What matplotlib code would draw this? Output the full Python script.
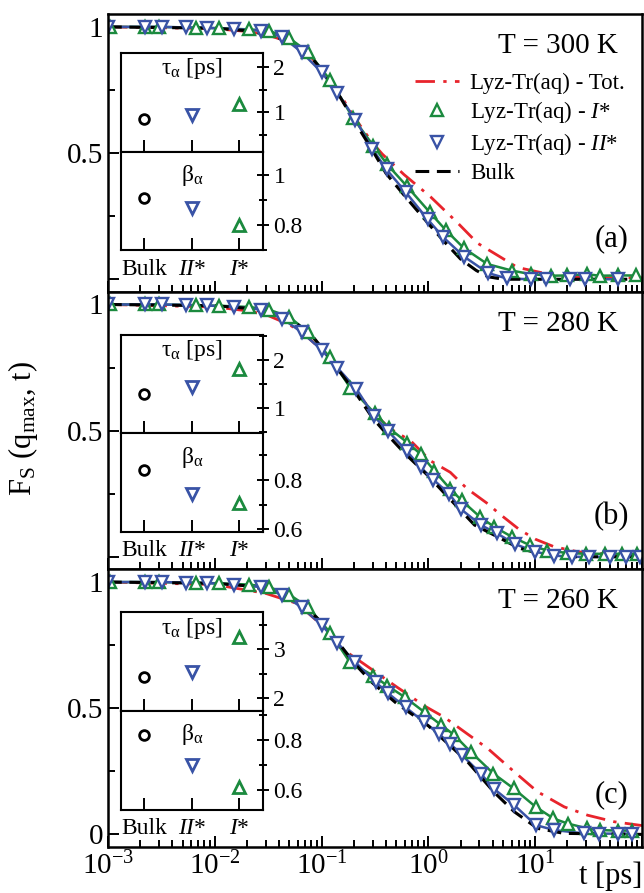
import numpy as np
import matplotlib.pyplot as plt
from matplotlib.ticker import FormatStrFormatter, LogLocator, NullFormatter, FixedLocator

plt.rcParams['font.family'] = ['Liberation Serif', 'DejaVu Serif']
plt.rcParams['mathtext.fontset'] = 'custom'
plt.rcParams['mathtext.rm'] = 'Liberation Serif'
plt.rcParams['mathtext.it'] = 'Liberation Serif:italic'
plt.rcParams['mathtext.bf'] = 'Liberation Serif:bold'

RED = '#e8242c'
GREEN = '#1b8a3e'
BLUE = '#3953a6'

# ---------------- T = 300 K ----------------
t_tot_300 = [0.001, 0.01, 0.02, 0.03, 0.05, 0.07, 0.1, 0.15, 0.2, 0.3, 0.37, 0.59, 1.05, 1.87, 2.88, 4.43, 6.8, 11.2, 20, 50, 100]
f_tot_300 = [1.0, 0.993, 0.982, 0.97, 0.94, 0.905, 0.835, 0.73, 0.645, 0.54, 0.496, 0.415, 0.326, 0.224, 0.143, 0.095, 0.047, 0.027, 0.008, 0.006, 0.006]
t_bulk_300 = [0.001, 0.01, 0.02, 0.03, 0.045, 0.059, 0.08, 0.1, 0.15, 0.2, 0.3, 0.4, 0.6, 1.0, 1.4, 2.0, 2.8, 3.6, 5, 100]
f_bulk_300 = [1.0, 0.995, 0.985, 0.97, 0.95, 0.925, 0.88, 0.83, 0.72, 0.63, 0.51, 0.42, 0.33, 0.22, 0.15, 0.08, 0.035, 0.01, 0.0, 0.0]
t_i_300 = [0.00105, 0.0022, 0.003, 0.0066, 0.011, 0.021, 0.032, 0.05, 0.075, 0.12, 0.197, 0.304, 0.411, 0.624, 1.03, 1.45, 2.15, 3.57, 6.1, 9.1, 14, 20, 30.5, 40, 60, 87]
f_i_300 = [1.0, 1.0, 1.0, 0.997, 0.995, 0.99, 0.985, 0.955, 0.9, 0.79, 0.639, 0.53, 0.455, 0.37, 0.265, 0.195, 0.123, 0.06, 0.034, 0.02, 0.014, 0.015, 0.02, 0.014, 0.015, 0.015]
t_ii_300 = [0.001, 0.0022, 0.0032, 0.0054, 0.0085, 0.015, 0.027, 0.043, 0.065, 0.1, 0.14, 0.207, 0.298, 0.405, 0.61, 0.98, 1.38, 2.15, 3.6, 5.4, 9.1, 12.7, 21, 29, 60]
f_ii_300 = [1.0, 1.0, 1.0, 0.998, 0.996, 0.992, 0.985, 0.96, 0.9, 0.82, 0.74, 0.633, 0.517, 0.435, 0.346, 0.238, 0.166, 0.09, 0.025, 0.003, 0.0, 0.0, 0.0, 0.0, 0.0]

# ---------------- T = 280 K ----------------
t_tot_280 = [0.001, 0.01, 0.02, 0.03, 0.05, 0.07, 0.1, 0.15, 0.2, 0.3, 0.43, 0.68, 1.05, 1.6, 2.3, 3.6, 4.6, 7, 10, 15, 25, 50, 100]
f_tot_280 = [1.0, 0.99, 0.975, 0.96, 0.92, 0.88, 0.82, 0.73, 0.665, 0.575, 0.51, 0.46, 0.38, 0.335, 0.27, 0.21, 0.171, 0.11, 0.07, 0.04, 0.02, 0.01, 0.008]
t_bulk_280 = [0.001, 0.01, 0.02, 0.03, 0.045, 0.06, 0.08, 0.1, 0.15, 0.2, 0.3, 0.4, 0.6, 1.0, 1.5, 2.7, 4.4, 7, 12, 20, 100]
f_bulk_280 = [1.0, 0.995, 0.985, 0.97, 0.95, 0.92, 0.88, 0.83, 0.73, 0.66, 0.55, 0.49, 0.41, 0.32, 0.24, 0.126, 0.08, 0.035, 0.008, 0.0, 0.0]
t_i_280 = [0.00105, 0.0022, 0.003, 0.0066, 0.011, 0.021, 0.032, 0.05, 0.075, 0.12, 0.186, 0.313, 0.427, 0.634, 0.845, 1.13, 1.59, 2.04, 3.04, 4.12, 6, 9, 13, 20, 30, 45, 65, 90]
f_i_280 = [1.0, 1.0, 1.0, 0.997, 0.995, 0.99, 0.98, 0.95, 0.89, 0.79, 0.669, 0.57, 0.51, 0.453, 0.407, 0.342, 0.27, 0.224, 0.158, 0.119, 0.08, 0.045, 0.025, 0.015, 0.012, 0.012, 0.012, 0.012]
t_ii_280 = [0.001, 0.0022, 0.0032, 0.0054, 0.0085, 0.015, 0.027, 0.043, 0.065, 0.1, 0.14, 0.212, 0.308, 0.417, 0.624, 0.845, 1.11, 1.56, 2.0, 3.09, 4.37, 6.5, 10, 15, 22, 32, 50, 70, 95]
f_ii_280 = [1.0, 1.0, 1.0, 0.998, 0.996, 0.99, 0.98, 0.944, 0.89, 0.82, 0.75, 0.665, 0.558, 0.499, 0.42, 0.355, 0.306, 0.25, 0.19, 0.126, 0.093, 0.05, 0.02, 0.005, 0.0, 0.0, 0.0, 0.0, 0.0]

# ---------------- T = 260 K ----------------
t_tot_260 = [0.001, 0.01, 0.03, 0.059, 0.1, 0.15, 0.25, 0.51, 0.63, 0.91, 1.4, 2.3, 3.6, 6.4, 10.5, 18.7, 30.9, 55, 100]
f_tot_260 = [1.0, 0.99, 0.955, 0.915, 0.83, 0.74, 0.675, 0.583, 0.557, 0.51, 0.465, 0.399, 0.34, 0.247, 0.169, 0.109, 0.076, 0.05, 0.035]
t_bulk_260 = [0.001, 0.01, 0.02, 0.03, 0.045, 0.06, 0.08, 0.1, 0.15, 0.2, 0.3, 0.5, 1.0, 2.3, 4.1, 6.35, 10.5, 18.6, 100]
f_bulk_260 = [1.0, 0.995, 0.985, 0.97, 0.95, 0.925, 0.88, 0.84, 0.75, 0.68, 0.6, 0.52, 0.43, 0.29, 0.168, 0.09, 0.024, 0.004, 0.0]
t_i_260 = [0.00105, 0.0022, 0.003, 0.0066, 0.011, 0.021, 0.032, 0.05, 0.075, 0.12, 0.184, 0.304, 0.41, 0.6, 0.92, 1.3, 1.73, 2.5, 4.06, 6.27, 10.1, 14.8, 20.1, 30.5, 40.6, 60, 81]
f_i_260 = [1.0, 1.0, 1.0, 0.997, 0.995, 0.99, 0.98, 0.95, 0.9, 0.8, 0.682, 0.629, 0.59, 0.544, 0.484, 0.435, 0.395, 0.326, 0.241, 0.182, 0.109, 0.063, 0.043, 0.024, 0.017, 0.015, 0.015]
t_ii_260 = [0.001, 0.0022, 0.0032, 0.0054, 0.0085, 0.015, 0.027, 0.043, 0.065, 0.1, 0.14, 0.207, 0.32, 0.417, 0.61, 0.91, 1.26, 1.6, 2.08, 3.1, 4.12, 6.35, 10.1, 15.1, 28.8, 39.8, 60, 81]
f_ii_260 = [1.0, 1.0, 1.0, 0.998, 0.996, 0.99, 0.98, 0.95, 0.9, 0.83, 0.76, 0.682, 0.603, 0.56, 0.504, 0.445, 0.397, 0.359, 0.313, 0.24, 0.18, 0.116, 0.037, 0.017, 0.004, 0.003, 0.003, 0.003]

# ---------------- insets: Bulk, II*, I* ----------------
inset_labels = ['Bulk', '$II$*', '$I$*']
tau_300 = [0.85, 0.94, 1.19]
beta_300 = [0.908, 0.868, 0.80]
tau_280 = [1.31, 1.45, 1.83]
beta_280 = [0.838, 0.742, 0.708]
tau_260 = [2.42, 2.53, 3.25]
beta_260 = [0.821, 0.697, 0.61]

panels = [
    ('300', '(a)', t_tot_300, f_tot_300, t_bulk_300, f_bulk_300, t_i_300, f_i_300, t_ii_300, f_ii_300,
     tau_300, beta_300, (0.13, 2.31), (0.70, 1.094)),
    ('280', '(b)', t_tot_280, f_tot_280, t_bulk_280, f_bulk_280, t_i_280, f_i_280, t_ii_280, f_ii_280,
     tau_280, beta_280, (0.48, 2.53), (0.59, 0.986)),
    ('260', '(c)', t_tot_260, f_tot_260, t_bulk_260, f_bulk_260, t_i_260, f_i_260, t_ii_260, f_ii_260,
     tau_260, beta_260, (1.72, 3.77), (0.52, 0.916)),
]
inset_shift = [0.015, 0.0, 0.0]


def ticks_in(lim, step, nmax):
    vals = np.round(np.arange(0, nmax, step), 3)
    return [v for v in vals if lim[0] - 1e-6 <= v <= lim[1] + 1e-6]


fig = plt.figure(figsize=(6.44, 8.93), dpi=100)
axes = fig.subplots(3, 1, sharex=True,
                    gridspec_kw=dict(hspace=0, left=0.1677, right=0.997, top=0.984, bottom=0.0515))

for k, (ax, p) in enumerate(zip(axes, panels)):
    (temp, tag, t_tot, f_tot, t_bulk, f_bulk, t_i, f_i, t_ii, f_ii, tau, beta, tlim, blim) = p

    ax.plot(t_tot, f_tot, color=RED, lw=2.0, dashes=[7, 3, 1.2, 3], label='Lyz-Tr(aq) - Tot.')
    ax.plot(t_i, f_i, color=GREEN, lw=1.8)
    ax.plot(t_ii, f_ii, color=BLUE, lw=1.8)
    ax.plot(t_bulk, f_bulk, color='k', lw=2.2, dashes=[4.5, 2.5])
    ax.plot(t_i, f_i, ls='none', marker='^', ms=8, mfc='white', mec=GREEN, mew=1.7,
            label='Lyz-Tr(aq) - $I$*')
    ax.plot(t_ii, f_ii, ls='none', marker='v', ms=8, mfc='white', mec=BLUE, mew=1.7,
            label='Lyz-Tr(aq) - $II$*')
    ax.plot([], [], color='k', lw=2.2, dashes=[4.5, 2.5], label='Bulk')

    ax.set_xscale('log')
    ax.set_xlim(1e-3, 1e2)
    ax.set_ylim(-0.05, 1.05)
    ax.set_yticks([0, 0.5, 1])
    if k < 2:
        ax.set_yticklabels(['', '0.5', '1'])
    else:
        ax.set_yticklabels(['0', '0.5', '1'])
    ax.yaxis.set_minor_locator(FixedLocator([0.25, 0.75]))
    ax.xaxis.set_major_locator(LogLocator(base=10, numticks=10))
    ax.xaxis.set_minor_locator(LogLocator(base=10, subs=np.arange(2, 10), numticks=20))
    ax.xaxis.set_minor_formatter(NullFormatter())
    ax.tick_params(which='both', direction='in', top=False, right=False, labelsize=21, width=1.4)
    ax.tick_params(which='major', length=8)
    ax.tick_params(which='minor', length=5)
    for s in ax.spines.values():
        s.set_linewidth(1.8)

    ax.text(0.955, 0.885, 'T = %s K' % temp, transform=ax.transAxes, ha='right', va='center', fontsize=21)
    ax.text(0.975, 0.19, tag, transform=ax.transAxes, ha='right', va='center', fontsize=22)

    if k == 0:
        ax.legend(loc='upper left', bbox_to_anchor=(0.575, 0.79), frameon=False, fontsize=16.5,
                  handlelength=1.9, handletextpad=0.5, labelspacing=0.25, borderaxespad=0, borderpad=0)

    # inset
    d = inset_shift[k]
    ins_t = ax.inset_axes([0.0238, 0.49 + d, 0.2665, 0.355])
    ins_b = ax.inset_axes([0.0238, 0.135 + d, 0.2665, 0.355])
    for ins, vals, lim in ((ins_t, tau, tlim), (ins_b, beta, blim)):
        ins.plot([1], [vals[0]], ls='none', marker='o', ms=7, mfc='white', mec='k', mew=2)
        ins.plot([2], [vals[1]], ls='none', marker='v', ms=9, mfc='white', mec=BLUE, mew=2)
        ins.plot([3], [vals[2]], ls='none', marker='^', ms=9, mfc='white', mec=GREEN, mew=2)
        ins.set_xlim(0.5, 3.5)
        ins.set_ylim(*lim)
        ins.set_xticks([1, 2, 3])
        ins.yaxis.tick_right()
        ins.tick_params(axis='x', direction='in', length=9, width=1.4, top=False)
        ins.tick_params(axis='y', which='both', direction='inout', width=1.4, labelsize=17, pad=3)
        ins.tick_params(axis='y', which='major', length=9)
        ins.tick_params(axis='y', which='minor', length=6)
        for s in ins.spines.values():
            s.set_linewidth(1.5)
    ins_t.yaxis.set_major_locator(FixedLocator(ticks_in(tlim, 1, 5)))
    ins_t.yaxis.set_minor_locator(FixedLocator(ticks_in(tlim, 0.5, 5)))
    ins_b.yaxis.set_major_locator(FixedLocator(ticks_in(blim, 0.2, 1.5)))
    ins_b.yaxis.set_minor_locator(FixedLocator(ticks_in(blim, 0.1, 1.5)))
    ins_t.yaxis.set_major_formatter(FormatStrFormatter('%g'))
    ins_b.yaxis.set_major_formatter(FormatStrFormatter('%g'))
    ins_t.set_xticklabels([])
    ins_b.set_xticklabels(inset_labels, fontsize=17)
    ins_b.tick_params(axis='x', pad=6)
    ins_t.text(0.5, 0.84, 'τ$_\\mathrm{α}$ [ps]', transform=ins_t.transAxes, ha='center', va='center', fontsize=17)
    ins_b.text(0.5, 0.76, 'β$_\\mathrm{α}$', transform=ins_b.transAxes, ha='center', va='center', fontsize=17)

ax = axes[-1]
ax.set_xticks([1e-3, 1e-2, 1e-1, 1e0, 1e1, 1e2])
ax.set_xticklabels(['$10^{-3}$', '$10^{-2}$', '$10^{-1}$', '$10^{0}$', '$10^{1}$', ''])
ax.text(1.0, -0.105, 't [ps]', transform=ax.transAxes, ha='right', va='center', fontsize=22)

fig.text(0.035, 0.52, 'F$_\\mathrm{S}$ (q$_\\mathrm{max}$, t)', rotation=90, ha='center', va='center', fontsize=22)

fig.savefig('out.png', dpi=100)
